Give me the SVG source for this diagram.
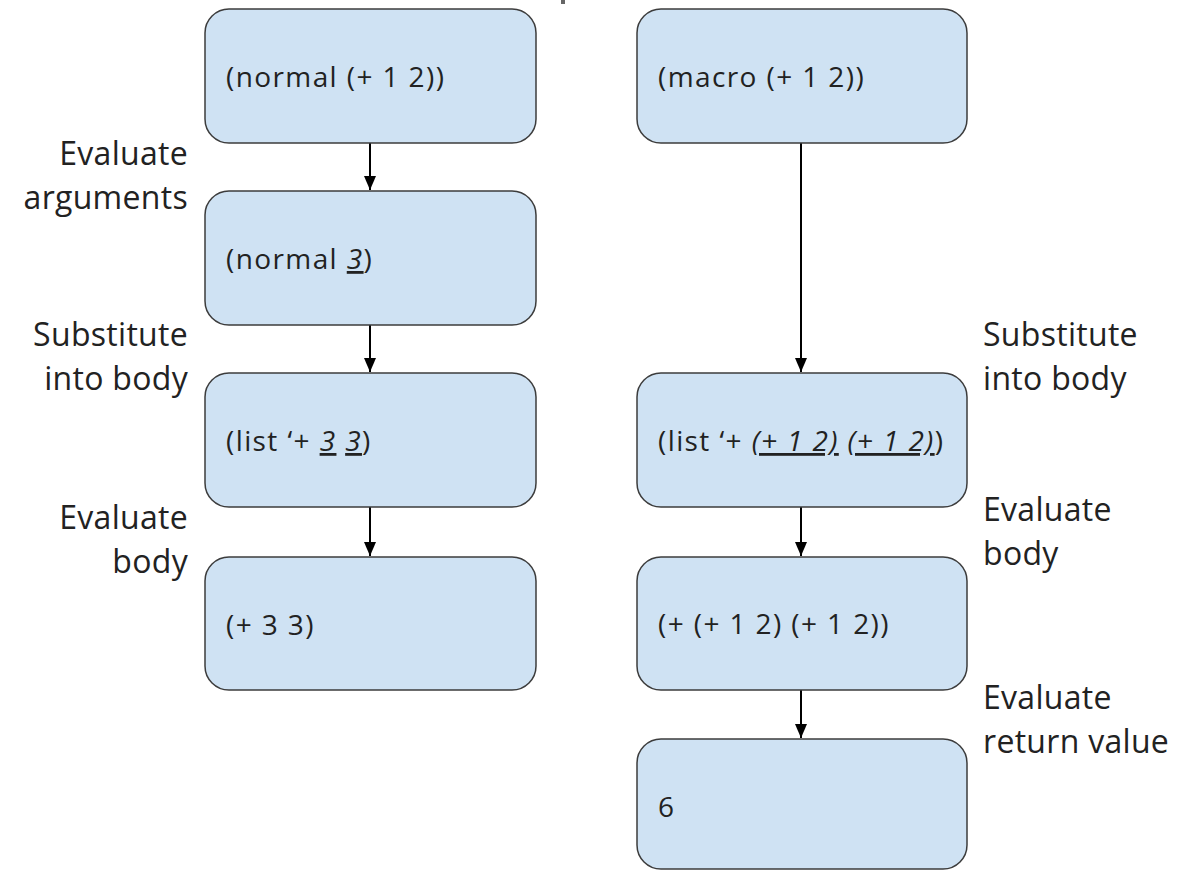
<svg xmlns="http://www.w3.org/2000/svg" width="1196" height="871" viewBox="0 0 1196 871">
<style>
.box{fill:#cfe2f3;stroke:#3c3c3c;stroke-width:1.5}
.t{font-family:"Open Sans","Noto Sans",sans-serif;font-size:28px;letter-spacing:1.4px;fill:#222}
.l{font-family:"Open Sans","Noto Sans",sans-serif;font-size:32px;letter-spacing:0.3px;fill:#222}
.r{text-anchor:end}
.u{text-decoration:underline;font-style:italic}
.c{stroke:#000;stroke-width:2;fill:none}
</style>
<defs>
<marker id="a" markerWidth="14" markerHeight="12" refX="14" refY="6" orient="auto" markerUnits="userSpaceOnUse" viewBox="0 0 14 12">
<path d="M0,0 L14,6 L0,12 Z" fill="#000"/>
</marker>
</defs>
<rect x="561" y="0" width="4" height="4" fill="#666"/>
<g id="connectors">
<line class="c" x1="370" y1="143" x2="370" y2="190" marker-end="url(#a)"/>
<line class="c" x1="370" y1="325" x2="370" y2="372" marker-end="url(#a)"/>
<line class="c" x1="370" y1="507" x2="370" y2="556" marker-end="url(#a)"/>
<line class="c" x1="801" y1="143" x2="801" y2="372" marker-end="url(#a)"/>
<line class="c" x1="801" y1="507" x2="801" y2="556" marker-end="url(#a)"/>
<line class="c" x1="801" y1="690" x2="801" y2="738" marker-end="url(#a)"/>
</g>
<g id="n1"><rect class="box" x="205" y="9" width="331" height="134" rx="24"/><text class="t" x="226" y="87">(normal (+ 1 2))</text></g>
<g id="n2"><rect class="box" x="205" y="191" width="331" height="134" rx="24"/><text class="t" x="226" y="269">(normal <tspan class="u">3</tspan>)</text></g>
<g id="n3"><rect class="box" x="205" y="373" width="331" height="134" rx="24"/><text class="t" x="226" y="451">(list ‘+ <tspan class="u">3</tspan> <tspan class="u">3</tspan>)</text></g>
<g id="n4"><rect class="box" x="205" y="557" width="331" height="133" rx="24"/><text class="t" x="226" y="635">(+ 3 3)</text></g>
<g id="m1"><rect class="box" x="637" y="9" width="330" height="134" rx="24"/><text class="t" x="658" y="87">(macro (+ 1 2))</text></g>
<g id="m2"><rect class="box" x="637" y="373" width="330" height="134" rx="24"/><text class="t" x="658" y="451">(list ‘+ <tspan class="u">(+ 1 2)</tspan> <tspan class="u">(+ 1 2)</tspan>)</text></g>
<g id="m3"><rect class="box" x="637" y="557" width="330" height="133" rx="24"/><text class="t" x="658" y="634">(+ (+ 1 2) (+ 1 2))</text></g>
<g id="m4"><rect class="box" x="637" y="739" width="330" height="130" rx="24"/><text class="t" x="658" y="817">6</text></g>
<g id="labels">
<text class="l r" x="188" y="165">Evaluate</text>
<text class="l r" x="188" y="209">arguments</text>
<text class="l r" x="188" y="346">Substitute</text>
<text class="l r" x="188" y="390">into body</text>
<text class="l r" x="188" y="529">Evaluate</text>
<text class="l r" x="188" y="573">body</text>
<text class="l" x="983" y="346">Substitute</text>
<text class="l" x="983" y="390">into body</text>
<text class="l" x="983" y="521">Evaluate</text>
<text class="l" x="983" y="565">body</text>
<text class="l" x="983" y="709">Evaluate</text>
<text class="l" x="983" y="753">return value</text>
</g>
</svg>
